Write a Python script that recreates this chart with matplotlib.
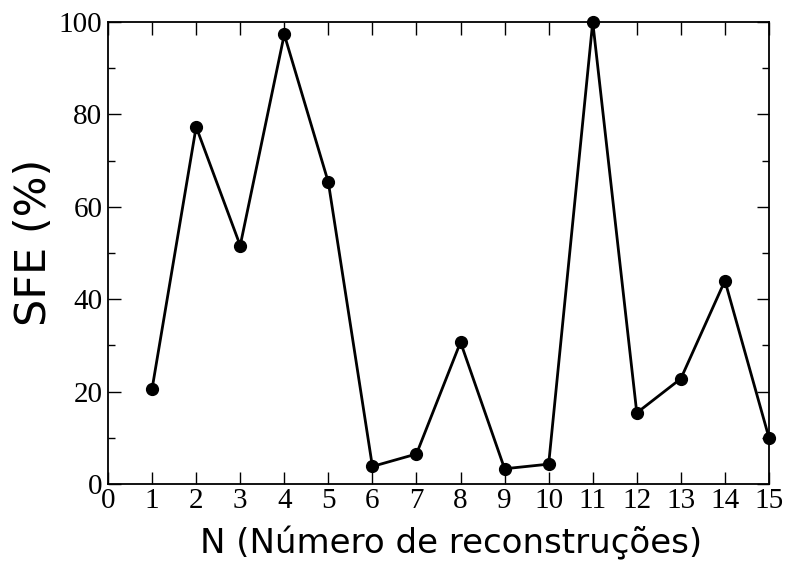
import matplotlib
matplotlib.use("Agg")
import matplotlib.pyplot as plt
from matplotlib.ticker import MultipleLocator

# Number of reconstructions and the resulting SFE values (%)
n_recon = [1, 2, 3, 4, 5, 6, 7, 8, 9, 10, 11, 12, 13, 14, 15]
sfe = [20.6, 77.3, 51.6, 97.3, 65.3, 3.8, 6.5, 30.7, 3.3, 4.3, 100.0, 15.4, 22.8, 44.0, 10.0]

x_ticks = list(range(0, 16))
y_ticks = [0, 20, 40, 60, 80, 100]

fig = plt.figure(figsize=(7.85, 5.63), dpi=100)
ax = fig.add_axes([0.1376, 0.1403, 0.842, 0.8207])

ax.plot(n_recon, sfe, color="black", linewidth=2.0, marker="o",
        markersize=8.5, clip_on=False, zorder=3)

ax.set_xlim(0, 15)
ax.set_ylim(0, 100)
ax.set_xticks(x_ticks)
ax.set_yticks(y_ticks)
ax.yaxis.set_minor_locator(MultipleLocator(10))

for spine in ax.spines.values():
    spine.set_linewidth(1.3)

ax.tick_params(which="both", direction="in", top=True, right=True, width=1.0)
ax.tick_params(which="major", length=9, pad=4)
ax.tick_params(which="minor", length=5)
ax.tick_params(axis="x", which="major", pad=3)

for lbl in ax.get_xticklabels() + ax.get_yticklabels():
    lbl.set_fontfamily("Liberation Serif")
    lbl.set_fontsize(21)

ax.set_xlabel("N (Número de reconstruções)", fontsize=24.5, family="DejaVu Sans",
              labelpad=9, x=0.519)
ax.set_ylabel("SFE (%)", fontsize=31, family="DejaVu Sans", labelpad=3, y=0.524)

fig.savefig("out.png", dpi=100)
